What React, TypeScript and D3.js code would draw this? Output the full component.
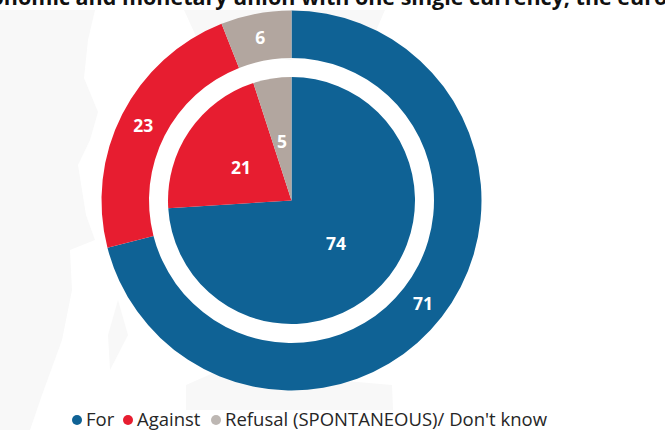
import React from "react";
import * as d3 from "d3";

const categories = ["For", "Against", "Refusal (SPONTANEOUS)/ Don't know"];
const colors = ["#0f6295", "#e71d30", "#b2a69f"];
const outerValues = [71, 23, 6];
const innerValues = [74, 21, 5];
const titleText = "economic and monetary union with one single currency, the euro";
const fontStack = "'Open Sans', Lato, sans-serif";

// Faint map outlines that sit behind the rings
const landShapes = [
  "M0,10 L95,10 L88,40 L84,78 L98,112 L90,140 L78,165 L86,215 L95,240 L70,250 L72,290 L62,340 L42,395 L30,430 L0,430 Z",
  "M184,10 L385,10 L372,40 L290,60 L200,45 Z",
  "M186,385 L220,370 L392,385 L393,410 L186,410 Z",
  "M118,300 L128,335 L110,370 L108,335 Z",
];

const cx = 291.5;
const cy = 200.5;

const rings = [
  { values: outerValues, inner: 142.5, outer: 190, labelRadius: 166.5 },
  { values: innerValues, inner: 0, outer: 123.5, labelRadius: 61 },
];

const pie = d3.pie<number>().sort(null).value((d) => d);
const arc = d3.arc<d3.PieArcDatum<number>>();

const legendDotX = [77, 128, 216];
const legendTextX = [86, 137, 225];

export default function App() {
  return (
    <svg
      width={665}
      height={430}
      viewBox="0 0 665 430"
      style={{ position: "fixed", left: 0, top: 0, background: "#fff" }}
    >
      {landShapes.map((d) => (
        <path key={d} d={d} fill="#f8f8f8" />
      ))}
      <text
        x={317}
        y={5}
        textAnchor="middle"
        fontFamily={fontStack}
        fontWeight={700}
        fontSize={21.5}
        fill="#111"
      >
        {titleText}
      </text>
      <g transform={`translate(${cx},${cy})`}>
        {rings.map((ring) =>
          pie(ring.values).map((slice, i) => {
            const path = arc({ ...slice, innerRadius: ring.inner, outerRadius: ring.outer } as never);
            const mid = (slice.startAngle + slice.endAngle) / 2;
            return (
              <g key={`${ring.outer}-${i}`}>
                <path d={path ?? ""} fill={colors[i]} />
                <text
                  x={Math.sin(mid) * ring.labelRadius}
                  y={-Math.cos(mid) * ring.labelRadius}
                  dy="0.42em"
                  textAnchor="middle"
                  fontFamily={fontStack}
                  fontWeight={700}
                  fontSize={17.5}
                  fill="#fff"
                >
                  {slice.value}
                </text>
              </g>
            );
          })
        )}
      </g>
      {categories.map((name, i) => (
        <g key={name}>
          <circle cx={legendDotX[i]} cy={420} r={5} fill={i === 2 ? "#bdb7b3" : colors[i]} />
          <text x={legendTextX[i]} y={426} fontFamily={fontStack} fontSize={18.5} fill="#262626">
            {name}
          </text>
        </g>
      ))}
    </svg>
  );
}
